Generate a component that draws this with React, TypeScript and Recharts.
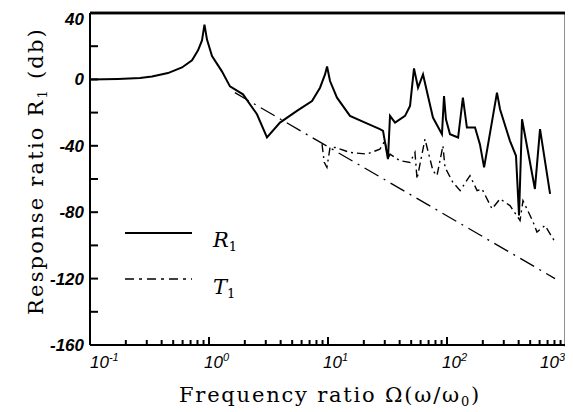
import React from 'react';
import { LineChart, Line, XAxis, YAxis, Legend, ReferenceLine } from 'recharts';

// R1 (solid) – frequency ratio and response (db)
const r1Freq = [0.1, 0.172, 0.263, 0.332, 0.452, 0.593, 0.72, 0.809, 0.873, 0.916, 0.962, 1.06, 1.28, 1.5, 1.93, 2.53, 3.07, 3.95, 5.48, 7.34, 8.57, 9.44, 9.82, 10.4, 11.9, 15.3, 20.5, 27.3, 29, 31.9, 33.2, 36.6, 44.4, 48.9, 52.8, 57.1, 62.9, 69.2, 76.2, 90.7, 94.4, 98, 106, 124, 136, 147, 172, 189, 205, 263, 279, 338, 380, 403, 427, 548, 605, 735];
const r1Db = [0, 0.3, 0.8, 1.7, 3.8, 7.2, 11.5, 17.5, 23.5, 33, 24, 14, 5, -4.2, -9, -21, -35, -26, -19, -13, -5, 3, 7.8, -1, -11, -22, -26, -30, -31, -48, -22, -26, -22, -16, 6.6, -5, 3, -10, -23, -33, -10, -24, -33, -35, -11, -29, -29, -39, -53, -8, -18, -37, -46, -82, -24, -66, -30, -69];

// T1 (dash-dot)
const t1Freq = [8.91, 9.3, 9.8, 10.4, 11.5, 15.3, 21.3, 27.3, 30.1, 32, 33.2, 40.3, 48.9, 53.8, 56, 65.3, 76.2, 82.4, 92.4, 96.2, 112, 129, 156, 179, 197, 239, 279, 338, 411, 435, 530, 570, 666, 809];
const t1Db = [-39, -50, -53, -41, -41, -44, -45, -42, -37, -48, -45, -49, -50, -44, -60, -36, -55, -58, -40, -53, -62, -67, -58, -67, -66, -78, -72, -76, -85, -73, -86, -92, -88, -98];

// long-dashed asymptote
const asymFreq = [1.65, 809];
const asymDb = [-8, -120];

const xTicks = [0.1, 0.2, 0.3, 0.4, 0.5, 0.6, 0.7, 0.8, 0.9, 1, 2, 3, 4, 5, 6, 7, 8, 9, 10, 20, 30, 40, 50, 60, 70, 80, 90, 100, 200, 300, 400, 500, 600, 700, 800, 900, 1000];
const xMajor = [0.1, 1, 10, 100, 1000];
const xExp = ['-1', '0', '1', '2', '3'];
const yTicks = [-160, -140, -120, -100, -80, -60, -40, -20, 0, 20, 40];
const yLabeled = [-160, -120, -80, -40, 0, 40];

const r1Data = r1Freq.map((f, i) => ({ f, v: r1Db[i] }));
const t1Data = t1Freq.map((f, i) => ({ f, v: t1Db[i] }));
const asymData = asymFreq.map((f, i) => ({ f, v: asymDb[i] }));

// layout
const CHART_W = 565;
const CHART_H = 404;
const MARGIN = { top: 5, right: 7, bottom: 0, left: 0 };
const Y_AXIS_W = 82;
const X_AXIS_H = 67;
const PLOT_W = CHART_W - MARGIN.left - MARGIN.right - Y_AXIS_W;
const PLOT_H = CHART_H - MARGIN.top - MARGIN.bottom - X_AXIS_H;

const SERIF = '"DejaVu Serif", "Liberation Serif", serif';
const SANS = '"Liberation Sans", Arial, sans-serif';

const XTick = (props: any) => {
  const x = Number(props.x);
  const y = Number(props.y);
  const v = props.payload.value;
  const idx = xMajor.findIndex((m) => Math.abs(m - v) < 1e-9);
  const major = idx >= 0;
  let tx = x - 5;
  let anchor = 'start';
  if (idx === 0) tx = x;
  if (idx === 4) { tx = x - 1; anchor = 'end'; }
  return (
    <g>
      <path d={`M${x},${y}V${y - (major ? 8 : 5)}`} stroke="#000" strokeWidth={2} fill="none" />
      {idx === 4 && <path d={`M${x},${y + 2}V${y - PLOT_H}`} stroke="#000" strokeWidth={2.5} fill="none" />}
      {major && (
        <text x={tx} y={y + 23} textAnchor={anchor} fontFamily={SANS} fontStyle="italic" fontSize={17} fill="#000">
          10<tspan dy={-7} fontSize={11}>{xExp[idx]}</tspan>
        </text>
      )}
    </g>
  );
};

const YTick = (props: any) => {
  const x = Number(props.x);
  const y = Number(props.y);
  const v = props.payload.value;
  const labeled = yLabeled.includes(v);
  return (
    <g>
      <path d={`M${x},${y}H${x + 8}`} stroke="#000" strokeWidth={2} fill="none" />
      {v === 40 && <path d={`M${x},${y}H${x + PLOT_W}`} stroke="#000" strokeWidth={2.5} fill="none" />}
      {labeled && (
        <text x={x - 6} y={y + (v === 40 ? 12 : 6)} textAnchor="end" fontFamily={SANS} fontStyle="italic" fontWeight="bold" fontSize={17} fill="#000">
          {v}
        </text>
      )}
    </g>
  );
};

const YLabel = () => (
  <text transform="rotate(-90, 35, 163)" x={35} y={163} textAnchor="middle" fontFamily={SERIF} fontSize={21} fill="#000" letterSpacing={2.2}>
    Response ratio R<tspan dy={4} fontSize={13}>1</tspan><tspan dy={-4}> (db)</tspan>
  </text>
);

const XLabel = () => (
  <text x={322} y={394} textAnchor="middle" fontFamily={SERIF} fontSize={21} fill="#000" letterSpacing={1.8}>
    Frequency ratio Ω(ω/ω<tspan dy={4} fontSize={13}>0</tspan><tspan dy={-4}>)</tspan>
  </text>
);

const LegendBox = () => (
  <svg width={150} height={90} style={{ display: 'block' }}>
    <line x1={0} x2={67} y1={10} y2={10} stroke="#000" strokeWidth={2} />
    <text x={88} y={24} fontFamily={SERIF} fontStyle="italic" fontSize={21} fill="#000">
      R<tspan dy={4} fontSize={13} fontStyle="normal">1</tspan>
    </text>
    <line x1={0} x2={67} y1={56} y2={56} stroke="#000" strokeWidth={1.5} strokeDasharray="9 5 3 5" />
    <text x={88} y={71} fontFamily={SERIF} fontStyle="italic" fontSize={21} fill="#000">
      T<tspan dy={4} fontSize={13} fontStyle="normal">1</tspan>
    </text>
  </svg>
);

export default function App() {
  return (
    <div style={{ position: 'relative', width: CHART_W, height: CHART_H, background: '#fff' }}>
      <LineChart width={CHART_W} height={CHART_H} margin={MARGIN}>
        <XAxis
          dataKey="f"
          type="number"
          scale="log"
          domain={[0.1, 1000]}
          ticks={xTicks}
          interval={0}
          allowDataOverflow
          height={X_AXIS_H}
          tickSize={0}
          tickMargin={0}
          tickLine={false}
          tick={<XTick />}
          axisLine={{ stroke: '#000', strokeWidth: 2 }}
          label={<XLabel />}
        />
        <YAxis
          type="number"
          domain={[-160, 40]}
          ticks={yTicks}
          interval={0}
          width={Y_AXIS_W}
          tickSize={0}
          tickMargin={0}
          tickLine={false}
          tick={<YTick />}
          axisLine={{ stroke: '#000', strokeWidth: 2 }}
          label={<YLabel />}
        />
        <ReferenceLine y={40} stroke="#000" strokeWidth={2.5} ifOverflow="visible" />
        <ReferenceLine x={1000} stroke="#000" strokeWidth={2.5} ifOverflow="visible" />
        <Legend
          layout="vertical"
          align="center"
          verticalAlign="middle"
          content={() => <LegendBox />}
          wrapperStyle={{ position: 'absolute', left: 117, top: 215, width: 150, height: 90 }}
        />
        <Line data={asymData} dataKey="v" name="asymptote" stroke="#000" strokeWidth={1.3} strokeDasharray="16 6 2 6" dot={false} isAnimationActive={false} legendType="none" />
        <Line data={t1Data} dataKey="v" name="T1" stroke="#000" strokeWidth={1.4} strokeDasharray="8 4 2 4" dot={false} isAnimationActive={false} />
        <Line data={r1Data} dataKey="v" name="R1" stroke="#000" strokeWidth={2} dot={false} isAnimationActive={false} />
      </LineChart>
      <div
        style={{
          position: 'absolute',
          left: MARGIN.left + Y_AXIS_W,
          top: MARGIN.top - 1,
          width: PLOT_W + 1,
          height: PLOT_H + 2,
          borderTop: '2px solid #000',
          borderRight: '2px solid #000',
          boxSizing: 'border-box',
          pointerEvents: 'none',
        }}
      />
    </div>
  );
}
